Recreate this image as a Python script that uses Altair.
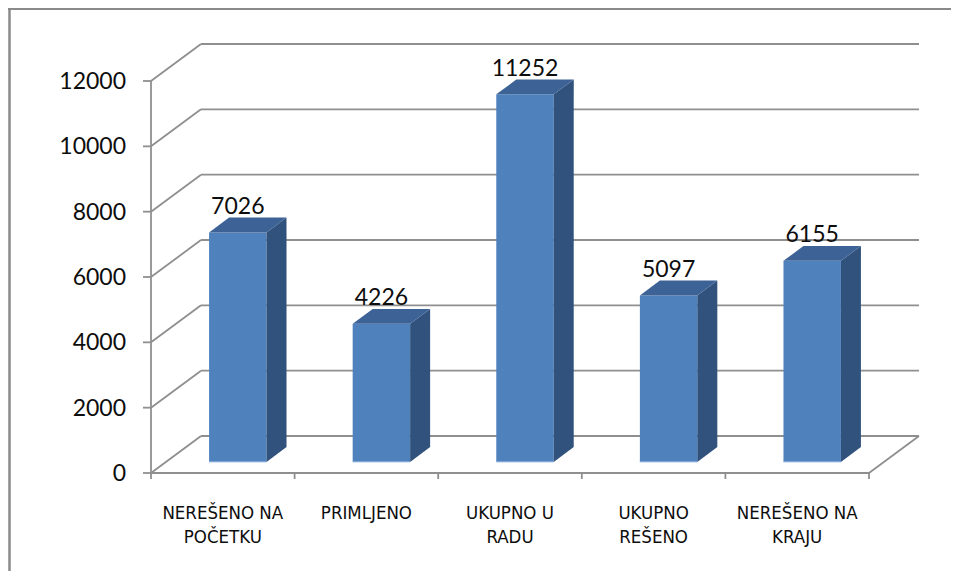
import altair as alt
import pandas as pd

# ---- data ----
categories = ["NEREŠENO NA\nPOČETKU", "PRIMLJENO", "UKUPNO U\nRADU", "UKUPNO\nREŠENO", "NEREŠENO NA\nKRAJU"]
values = [7026, 4226, 11252, 5097, 6155]
y_ticks = [0, 2000, 4000, 6000, 8000, 10000, 12000]

# ---- layout constants (pixels / pseudo-3D geometry) ----
W, H = 943, 563
PX_CAT = 143.6            # pixels per category slot
PX_VAL = 392 / 12000      # pixels per value unit
X0 = 143                  # plot-x of the category origin (front axis)
Y0 = 465                  # plot-y of value 0 (front floor)
DEPTH_X = 50 / PX_CAT     # depth vector in data units
DEPTH_Y = 37 / PX_VAL
BAR_W = 0.4
F_FRONT, F_BACK = 0.3, 0.7

x_dom = [-X0 / PX_CAT, (W - X0) / PX_CAT]
y_dom = [-(H - Y0) / PX_VAL, Y0 / PX_VAL]
n = len(values)

GRID = "#8f8f8f"
FRONT = "#4f81bd"
SIDE = "#31527d"
TOP = "#3d6396"
LABEL_FONT = "Lato"
CAT_FONT = "DejaVu Sans Condensed, Liberation Sans, sans-serif"


def X(f):
    return alt.X(f, type="quantitative", scale=alt.Scale(domain=x_dom, nice=False, zero=False), axis=None)


def Y(f):
    return alt.Y(f, type="quantitative", scale=alt.Scale(domain=y_dom, nice=False, zero=False), axis=None)


# ---- derived tables ----
ddx = (F_BACK - F_FRONT) * DEPTH_X
ddy = (F_BACK - F_FRONT) * DEPTH_Y
bars, side, top = [], [], []
for i, (c, v) in enumerate(zip(categories, values)):
    cx = i + 0.5
    xl = cx - BAR_W / 2 + F_FRONT * DEPTH_X
    xr = xl + BAR_W
    yb = F_FRONT * DEPTH_Y
    yt = v + F_FRONT * DEPTH_Y
    bars.append(dict(bar=i, cat=c, value=v, xl=xl, xr=xr, yb=yb, yt=yt,
                     lx=cx + F_FRONT * DEPTH_X, ly=v + F_BACK * DEPTH_Y, cx=cx))
    side += [dict(bar=i, x=xr, lo=yb, hi=yt), dict(bar=i, x=xr + ddx, lo=yb + ddy, hi=yt + ddy)]
    top += [dict(bar=i, x=xl, lo=yt, hi=yt), dict(bar=i, x=xl + ddx, lo=yt, hi=yt + ddy),
            dict(bar=i, x=xr, lo=yt, hi=yt + ddy), dict(bar=i, x=xr + ddx, lo=yt + ddy, hi=yt + ddy)]
bars_df = pd.DataFrame(bars)
side_df = pd.DataFrame(side)
top_df = pd.DataFrame(top)

grid = []
for t in y_ticks:
    grid.append(dict(x=0, y=t, x2=DEPTH_X, y2=t + DEPTH_Y))
    grid.append(dict(x=DEPTH_X, y=t + DEPTH_Y, x2=n + DEPTH_X, y2=t + DEPTH_Y))
grid.append(dict(x=n, y=0, x2=n + DEPTH_X, y2=DEPTH_Y))
grid_df = pd.DataFrame(grid)

axes_df = pd.DataFrame([dict(x=0, y=0, x2=0, y2=max(y_ticks)), dict(x=0, y=0, x2=n, y2=0)])
ytick_df = pd.DataFrame(dict(t=y_ticks, x=[0] * len(y_ticks)))
xtick_df = pd.DataFrame(dict(b=list(range(n + 1)), y=[0] * (n + 1)))

# ---- layers ----
border_top = alt.Chart(pd.DataFrame({"a": [0]})).mark_rule(color="#8a8a8a", strokeWidth=2).encode(
    x=alt.value(0), x2=alt.value(W), y=alt.value(1))
border_left = alt.Chart(pd.DataFrame({"a": [0]})).mark_rule(color="#8a8a8a", strokeWidth=2.5).encode(
    x=alt.value(1.5), y=alt.value(0), y2=alt.value(H))

grid_l = alt.Chart(grid_df).mark_rule(color=GRID, strokeWidth=1.8).encode(
    x=X("x"), y=Y("y"), x2="x2", y2="y2")
axes_l = alt.Chart(axes_df).mark_rule(color=GRID, strokeWidth=1.8).encode(
    x=X("x"), y=Y("y"), x2="x2", y2="y2")
ytick_l = alt.Chart(ytick_df).mark_rule(color=GRID, strokeWidth=1.8, xOffset=-8).encode(
    x=X("x"), x2="x", y=Y("t"))
xtick_l = alt.Chart(xtick_df).mark_rule(color=GRID, strokeWidth=1.8, y2Offset=6).encode(
    x=X("b"), y=Y("y"), y2="y")

front_l = alt.Chart(bars_df).mark_rect(color=FRONT).encode(
    x=X("xl"), x2="xr", y=Y("yb"), y2="yt")
base_l = alt.Chart(bars_df).mark_rule(color="#9dbde4", strokeWidth=1).encode(
    x=X("xl"), x2="xr", y=Y("yb"))
side_l = alt.Chart(side_df).mark_area(color=SIDE, opacity=1).encode(
    x=X("x"), y=Y("lo"), y2="hi", detail="bar:N")
top_l = alt.Chart(top_df).mark_area(color=TOP, opacity=1).encode(
    x=X("x"), y=Y("lo"), y2="hi", detail="bar:N")

vlabel_l = alt.Chart(bars_df).mark_text(font=LABEL_FONT, fontSize=23, color="#0d0d0d",
                                        baseline="alphabetic", dy=-4).encode(
    x=X("lx"), y=Y("ly"), text=alt.Text("value:Q", format="d"))
ylabel_l = alt.Chart(ytick_df).mark_text(font=LABEL_FONT, fontSize=23, color="#0d0d0d",
                                         align="right", baseline="middle", dx=-25, dy=1).encode(
    x=X("x"), y=Y("t"), text=alt.Text("t:Q", format="d"))
cat_l = alt.Chart(bars_df).mark_text(font=CAT_FONT, fontSize=18.5, color="#0d0d0d", lineBreak="\n",
                                     lineHeight=24, baseline="alphabetic", align="center", dy=46).encode(
    x=X("cx"), y=alt.Y("zero:Q", scale=alt.Scale(domain=y_dom, nice=False, zero=False), axis=None),
    text="cat:N").transform_calculate(zero="0")

chart = alt.layer(
    border_top, border_left, grid_l, axes_l, ytick_l, xtick_l,
    front_l, base_l, side_l, top_l, vlabel_l, ylabel_l, cat_l
).properties(
    width=W, height=H, autosize=alt.AutoSizeParams(type="none"), padding=0, background="white"
).configure_view(stroke=None)

chart.save("out.html", embed_options={"renderer": "svg", "actions": False})
